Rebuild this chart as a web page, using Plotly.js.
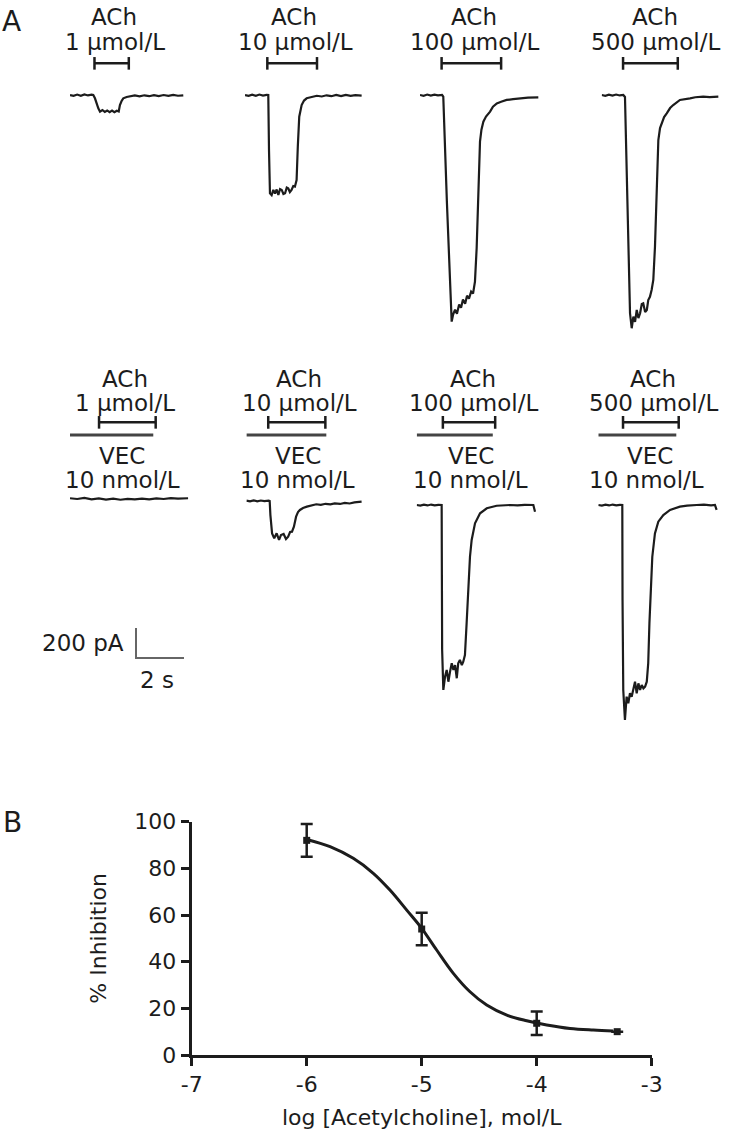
<!DOCTYPE html>
<html>
<head>
<meta charset="utf-8">
<script src="https://cdn.plot.ly/plotly-3.0.1.min.js"></script>
<style>
  html, body { margin: 0; padding: 0; background: #fff; }
  #chart { width: 729px; height: 1135px; }
</style>
</head>
<body>
<div id="chart"></div>
<script>
// ---- Panel A data: whole-cell currents (time in s, current in pA) ----
// row 1: ACh alone
var achConc = ['1 μmol/L', '10 μmol/L', '100 μmol/L', '500 μmol/L'];

var ach1Time = [0, 0.15, 0.3, 0.45, 0.6, 0.75, 0.9, 0.97, 1.04, 1.11, 1.18, 1.25, 1.35, 1.45, 1.55, 1.65, 1.75, 1.85, 1.95, 2.03, 2.08, 2.15, 2.22, 2.36, 2.5, 2.7, 2.9, 3.1, 3.3, 3.5, 3.7, 3.9, 4.1, 4.3, 4.5, 4.72];
var ach1Curr = [0, -6, 3, -5, 4, -3, 2, 0, -22, -60, -89, -111, -100, -113, -103, -114, -104, -115, -105, -110, -67, -40, -22, -13, -7, -3, -9, -2, -8, -1, -7, 0, -6, 1, -5, -2];

var ach10Time = [0, 0.15, 0.3, 0.45, 0.6, 0.75, 0.9, 0.97, 1.0, 1.04, 1.11, 1.18, 1.25, 1.32, 1.39, 1.46, 1.53, 1.6, 1.67, 1.74, 1.8, 1.87, 1.94, 2.01, 2.08, 2.15, 2.2, 2.26, 2.36, 2.46, 2.57, 2.75, 2.99, 3.2, 3.4, 3.6, 3.8, 4.0, 4.2, 4.4, 4.6, 4.86];
var ach10Curr = [0, -6, 2, -5, 3, -4, 1, 0, -367, -655, -667, -633, -657, -630, -667, -627, -633, -660, -655, -617, -622, -647, -633, -607, -611, -567, -345, -145, -67, -37, -22, -13, -5, -10, -2, -8, 0, -7, 1, -6, -1, -4];

var ach100Time = [0, 0.15, 0.3, 0.45, 0.6, 0.75, 0.92, 0.97, 1.12, 1.31, 1.32, 1.38, 1.46, 1.54, 1.63, 1.71, 1.79, 1.88, 1.96, 2.04, 2.13, 2.21, 2.29, 2.36, 2.43, 2.5, 2.56, 2.64, 2.75, 2.92, 3.04, 3.2, 3.38, 3.61, 3.88, 4.17, 4.5, 4.93];
var ach100Curr = [0, -5, 3, -4, 2, -3, 0, -11, -711, -1464, -1511, -1464, -1431, -1458, -1397, -1418, -1364, -1391, -1338, -1358, -1311, -1324, -1244, -1023, -578, -311, -231, -178, -144, -111, -78, -56, -45, -33, -28, -22, -18, -16];

var ach500Time = [0, 0.15, 0.3, 0.45, 0.6, 0.75, 0.9, 0.97, 1.07, 1.18, 1.25, 1.32, 1.39, 1.46, 1.53, 1.6, 1.67, 1.73, 1.81, 1.88, 1.94, 2.01, 2.08, 2.15, 2.22, 2.29, 2.36, 2.43, 2.5, 2.6, 2.71, 2.85, 2.98, 3.26, 3.68, 3.9, 4.23, 4.5, 4.86];
var ach500Curr = [0, -5, 2, -4, 3, -3, 0, -13, -700, -1455, -1555, -1478, -1513, -1433, -1487, -1455, -1393, -1389, -1447, -1433, -1367, -1345, -1300, -1233, -1011, -567, -300, -220, -189, -147, -122, -87, -67, -33, -22, -15, -11, -14, -11];

// row 2: ACh + VEC 10 nmol/L
var vec1Time = [0, 0.3, 0.6, 0.9, 1.2, 1.5, 1.8, 2.1, 2.4, 2.7, 3.0, 3.3, 3.6, 3.9, 4.2, 4.5, 4.92];
var vec1Curr = [45, 40, 47, 38, 44, 36, 42, 35, 41, 37, 43, 38, 44, 40, 46, 42, 45];

var vec10Time = [0, 0.15, 0.3, 0.45, 0.6, 0.75, 0.93, 0.97, 1.0, 1.07, 1.16, 1.26, 1.36, 1.44, 1.55, 1.65, 1.74, 1.82, 1.9, 1.98, 2.07, 2.15, 2.23, 2.36, 2.52, 2.7, 2.91, 3.1, 3.3, 3.5, 3.68, 3.9, 4.1, 4.3, 4.5, 4.8];
var vec10Curr = [29, 24, 31, 25, 30, 26, 29, 27, -67, -189, -222, -189, -233, -200, -193, -227, -211, -180, -178, -145, -78, -47, -33, -20, -11, -2, 5, 1, 8, 4, 11, 7, 14, 10, 17, 22];

var vec100Time = [0, 0.15, 0.3, 0.45, 0.6, 0.75, 0.9, 1.04, 1.05, 1.06, 1.11, 1.18, 1.25, 1.32, 1.39, 1.46, 1.53, 1.6, 1.67, 1.73, 1.8, 1.88, 1.94, 2.01, 2.08, 2.15, 2.22, 2.29, 2.36, 2.43, 2.64, 2.92, 3.33, 3.6, 3.89, 4.2, 4.5, 4.86, 4.93];
var vec100Curr = [0, -4, 2, -3, 3, -2, 1, 0, -500, -967, -1233, -1145, -1100, -1178, -1111, -1055, -1100, -1067, -1155, -1055, -1033, -1067, -1045, -1000, -789, -567, -345, -233, -167, -122, -55, -22, -5, -2, 0, -3, 1, 0, -45];

var vec500Time = [0, 0.15, 0.3, 0.45, 0.6, 0.75, 0.9, 1.0, 1.01, 1.04, 1.11, 1.18, 1.25, 1.32, 1.39, 1.46, 1.53, 1.6, 1.67, 1.74, 1.81, 1.88, 1.95, 2.02, 2.08, 2.13, 2.18, 2.25, 2.36, 2.5, 2.71, 2.99, 3.4, 3.7, 4.1, 4.4, 4.7, 4.86, 4.93];
var vec500Curr = [0, -4, 2, -3, 3, -2, 1, 0, -633, -1233, -1433, -1278, -1322, -1255, -1278, -1233, -1178, -1255, -1189, -1233, -1200, -1222, -1211, -1178, -1055, -789, -567, -345, -189, -111, -67, -33, -11, -4, 0, 3, -2, 0, -33];

// drug application periods (start, end in s)
var achBarsRow1 = [[1.02, 2.45], [0.93, 3.0], [0.9, 3.38], [0.89, 3.17]];
var achBarsRow2 = [[1.21, 3.57], [0.91, 3.29], [1.09, 3.27], [1.03, 3.35]];
var vecBarsRow2 = [[0, 3.47], [0, 3.33], [0, 3.17], [0, 3.25]];

// scale bar
var scaleSec = 2;
var scalePA = 200;

// ---- Panel B data: concentration-inhibition ----
var logAch = [-6, -5, -4, -3.3];
var inhibition = [92, 54, 13.6, 10];
var inhibitionSE = [7, 7, 5, 0];
var fitLogAch = [-6.0, -5.797, -5.595, -5.421, -5.276, -5.13, -5.0, -4.87, -4.725, -4.58, -4.435, -4.26, -4.087, -3.913, -3.71, -3.508, -3.334];
var fitInhibition = [92.4, 89.3, 84.3, 77.9, 70.7, 62.1, 54.3, 45, 35, 27.1, 21.4, 17.1, 14.7, 12.9, 11.4, 10.7, 10.3];
var xTickVals = [-7, -6, -5, -4, -3];
var xTickText = ['-7', '-6', '-5', '-4', '-3'];
var yTickVals = [0, 20, 40, 60, 80, 100];

// ---- layout helpers ----
var W = 729, H = 1135;
var PX_PER_S = 24, PX_PER_PA = 0.15, SPAN_S = 5;
var ink = '#1c1c1c';
function fx(px) { return px / W; }
function fy(py) { return 1 - py / H; }

var rows = [
  {top: 50, bottom: 345, base: 95, starts: [70, 245, 420, 601.7]},
  {top: 405, bottom: 735, base: 505, starts: [70, 246.4, 416.7, 598.3]}
];
var recordings = [
  [[ach1Time, ach1Curr], [ach10Time, ach10Curr], [ach100Time, ach100Curr], [ach500Time, ach500Curr]],
  [[vec1Time, vec1Curr], [vec10Time, vec10Curr], [vec100Time, vec100Curr], [vec500Time, vec500Curr]]
];

var data = [];
var layout = {
  width: W, height: H,
  margin: {l: 0, r: 0, t: 0, b: 0},
  paper_bgcolor: '#ffffff',
  plot_bgcolor: 'rgba(0,0,0,0)',
  showlegend: false,
  font: {family: 'DejaVu Sans', size: 22, color: ink},
  annotations: []
};

function bar(ax, ay, t0, t1, level, capped) {
  var tr = {
    x: [t0, t1], y: [level, level], xaxis: ax, yaxis: ay,
    type: 'scatter', mode: capped ? 'lines+markers' : 'lines',
    line: {color: capped ? ink : '#444', width: capped ? 2.5 : 3},
    hoverinfo: 'skip'
  };
  if (capped) tr.marker = {symbol: 'line-ns', size: 9, line: {width: 2.5, color: ink}};
  return tr;
}

var n = 1;
rows.forEach(function (row, r) {
  row.starts.forEach(function (s, c) {
    var ax = 'x' + n, ay = 'y' + n;
    layout['xaxis' + n] = {
      domain: [fx(s), fx(s + SPAN_S * PX_PER_S)], range: [0, SPAN_S],
      visible: false, anchor: ay, fixedrange: true
    };
    layout['yaxis' + n] = {
      domain: [fy(row.bottom), fy(row.top)],
      range: [-(row.bottom - row.base) / PX_PER_PA, (row.base - row.top) / PX_PER_PA],
      visible: false, anchor: ax, fixedrange: true
    };
    var rec = recordings[r][c];
    data.push({
      x: rec[0], y: rec[1], xaxis: ax, yaxis: ay, type: 'scatter', mode: 'lines',
      line: {color: ink, width: 2.2}, hoverinfo: 'skip'
    });
    if (r === 0) {
      data.push(bar(ax, ay, achBarsRow1[c][0], achBarsRow1[c][1], 211, true));
    } else {
      data.push(bar(ax, ay, achBarsRow2[c][0], achBarsRow2[c][1], 551, true));
      data.push(bar(ax, ay, vecBarsRow2[c][0], vecBarsRow2[c][1], 467, false));
    }
    n++;
  });
});

// scale bar in the row-2, column-1 axes
var sbT = 2.75, sbI = -820;
data.push({
  x: [sbT, sbT, sbT + scaleSec], y: [sbI, sbI - scalePA, sbI - scalePA],
  xaxis: 'x5', yaxis: 'y5', type: 'scatter', mode: 'lines',
  line: {color: '#666', width: 2}, hoverinfo: 'skip'
});

// panel B
layout.xaxis9 = {
  domain: [fx(191.7), fx(651.7)], range: [-7, -3], anchor: 'y9',
  showline: true, linewidth: 3, linecolor: ink, ticks: 'outside', ticklen: 8, tickwidth: 3, tickcolor: ink,
  tickvals: xTickVals, ticktext: xTickText, showgrid: false, zeroline: false,
  tickfont: {size: 22},
  title: {text: 'log [Acetylcholine], mol/L', font: {size: 22}, standoff: 14}
};
layout.yaxis9 = {
  domain: [fy(1055), fy(821.7)], range: [0, 100], anchor: 'x9',
  showline: true, linewidth: 3, linecolor: ink, ticks: 'outside', ticklen: 8, tickwidth: 3, tickcolor: ink,
  tickvals: yTickVals, showgrid: false, zeroline: false,
  tickfont: {size: 22},
  title: {text: '% Inhibition', font: {size: 22}, standoff: 22}
};
data.push({
  x: fitLogAch, y: fitInhibition, xaxis: 'x9', yaxis: 'y9', type: 'scatter', mode: 'lines',
  line: {color: ink, width: 3, shape: 'spline'}, hoverinfo: 'skip'
});
data.push({
  x: logAch, y: inhibition, xaxis: 'x9', yaxis: 'y9', type: 'scatter', mode: 'markers',
  marker: {symbol: 'square', size: 7, color: ink},
  error_y: {type: 'data', array: inhibitionSE, visible: true, thickness: 2.5, width: 6, color: ink},
  cliponaxis: false, hoverinfo: 'skip'
});

// text labels
function note(text, px, py, size, anchor) {
  layout.annotations.push({
    text: text, xref: 'paper', yref: 'paper', x: fx(px), y: fy(py),
    xanchor: anchor || 'center', yanchor: 'middle', showarrow: false,
    font: {size: size || 23, color: ink}
  });
}
note('A', 11, 22, 28);
note('B', 12, 822, 28);

var r1Ach = [114, 294, 474, 655];
var r1Conc = [115, 295, 474, 655];
var r2Conc = [124.6, 299, 473.3, 653.2];
var r2Vec = [122, 297.5, 470.5, 650];
var r2Nmol = [122, 297.5, 471, 646];
achConc.forEach(function (txt, c) {
  note('ACh', r1Ach[c], 17);
  note(txt, r1Conc[c], 42);
  note('ACh', r2Conc[c], 379);
  note(txt, r2Conc[c], 403);
  note('VEC', r2Vec[c], 456);
  note('10 nmol/L', r2Nmol[c], 480);
});
note('200 pA', 126, 643, 23, 'right');
note('2 s', 157, 680, 23);

Plotly.newPlot('chart', data, layout, {staticPlot: true});
</script>
</body>
</html>
